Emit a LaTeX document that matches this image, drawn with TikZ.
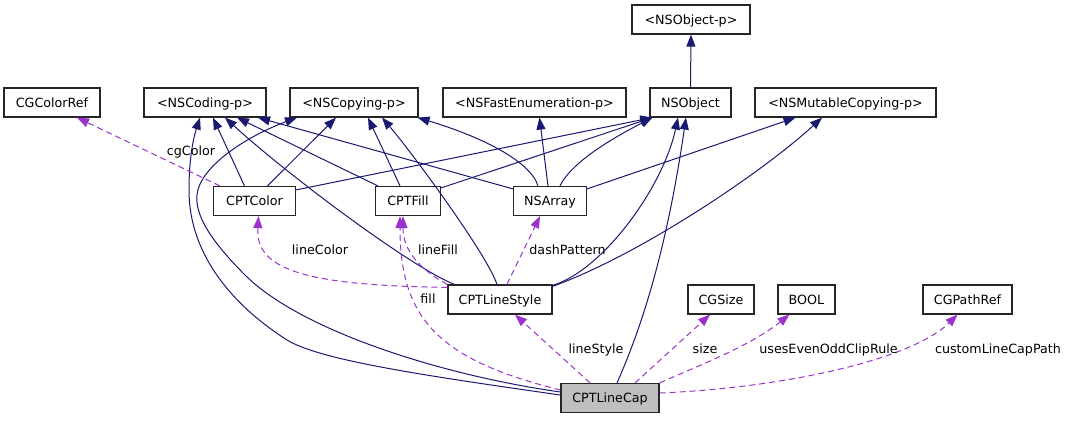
\documentclass[tikz,border=0pt]{standalone}
\usepackage{fontspec}
\setmainfont{DejaVu Sans}
\usetikzlibrary{arrows.meta}
\definecolor{edgeblue}{HTML}{191970}
\definecolor{edgepurple}{HTML}{9A32CD}
\definecolor{capgray}{HTML}{BFBFBF}
\tikzset{
  box/.style={draw=black!85, line width=1.2pt, fill=white, minimum height=29pt, inner sep=0pt,
              text height=9.3pt, text depth=0pt, font=\fontsize{12.7pt}{15pt}\selectfont},
  inherit/.style={draw=edgeblue, line width=1pt, -{Triangle[length=12pt,width=9pt]}},
  uses/.style={draw=edgepurple, line width=1pt, dash pattern=on 6pt off 4pt, -{Triangle[length=12pt,width=9pt]}},
  lbl/.style={inner sep=0pt, text height=9.3pt, text depth=0pt, font=\fontsize{12.7pt}{15pt}\selectfont},
}
\begin{document}
\begin{tikzpicture}[x=1pt,y=-1pt]
\useasboundingbox (0,0) rectangle (1067,421);
% nodes
\node[box, minimum width=118pt] (nsobjp) at (691,19.5) {<NSObject-p>};
\node[box, minimum width=96pt] (cgcolorref) at (52,102.5) {CGColorRef};
\node[box, minimum width=122pt] (nscoding) at (205,102.5) {<NSCoding-p>};
\node[box, minimum width=128pt] (nscopying) at (354,102.5) {<NSCopying-p>};
\node[box, minimum width=183pt] (nsfast) at (534.5,102.5) {<NSFastEnumeration-p>};
\node[box, minimum width=81pt] (nsobject) at (690.5,102.5) {NSObject};
\node[box, minimum width=181pt] (nsmutable) at (845.5,102.5) {<NSMutableCopying-p>};
\node[box, minimum width=82pt] (cptcolor) at (254.5,201) {CPTColor};
\node[box, minimum width=65pt] (cptfill) at (408,201) {CPTFill};
\node[box, minimum width=73pt] (nsarray) at (550,201) {NSArray};
\node[box, minimum width=104pt] (linestyle) at (500,299.5) {CPTLineStyle};
\node[box, minimum width=66pt] (cgsize) at (721,299.5) {CGSize};
\node[box, minimum width=57pt] (bool) at (806.5,299.5) {BOOL};
\node[box, minimum width=89pt] (cgpathref) at (967.5,299.5) {CGPathRef};
\node[box, minimum width=98pt, fill=capgray] (linecap) at (610,398) {CPTLineCap};

% inheritance / protocol edges
\draw[inherit] (nsobject.north) -- (nsobjp.south);
\draw[inherit] ([xshift=-10pt]cptcolor.north) -- ([xshift=8pt]nscoding.south);
\draw[inherit] ([xshift=13pt]cptcolor.north) -- ([xshift=-18pt]nscopying.south);
\draw[inherit] ([yshift=-4pt]cptcolor.north east) -- ([xshift=3pt]nsobject.south west);
\draw[inherit] ([xshift=3pt]cptfill.north west) -- ([xshift=32pt]nscoding.south);
\draw[inherit] ([xshift=-8pt]cptfill.north) -- ([xshift=14pt]nscopying.south);
\draw[inherit] ([yshift=-2pt]cptfill.north east) -- ([xshift=3pt]nsobject.south west);
\draw[inherit] ([yshift=-3pt]nsarray.north west) -- ([xshift=53pt]nscoding.south);
\draw[inherit] ([xshift=-12pt]nsarray.north) .. controls +(-8,-26) and +(60,18) .. ([xshift=-1pt]nscopying.south east);
\draw[inherit] ([xshift=-2pt]nsarray.north) -- ([xshift=5pt]nsfast.south);
\draw[inherit] ([xshift=10pt]nsarray.north) .. controls +(12,-25) and +(-35,18) .. ([xshift=3pt]nsobject.south west);
\draw[inherit] ([yshift=-3pt]nsarray.north east) -- ([xshift=-50pt]nsmutable.south);
\draw[inherit] ([xshift=7pt]linestyle.north west) .. controls +(-45,-18) and +(60,55) .. ([xshift=20pt]nscoding.south);
\draw[inherit] ([xshift=-3pt]linestyle.north) .. controls +(-10,-30) and +(30,35) .. ([xshift=28pt]nscopying.south);
\draw[inherit] ([yshift=-1pt]linestyle.north east) .. controls +(50,-15) and +(-15,70) .. ([xshift=-12.5pt]nsobject.south);
\draw[inherit] ([yshift=-2pt]linestyle.north east) .. controls +(88,-32) and +(-60,55) .. ([xshift=-23.5pt]nsmutable.south);
\draw[inherit] ([yshift=3pt]linecap.west) .. controls (420,375) and (320,360) .. (287,340)
   .. controls (240,310) and (189,260) .. (189,190)
   .. controls (189,150) and (196,130) .. ([xshift=-5pt]nscoding.south);
\draw[inherit] ([yshift=6pt]linecap.west) .. controls (440,375) and (300,330) .. (245,275)
   .. controls (210,240) and (195,215) .. (197,195)
   .. controls (200,165) and (250,135) .. ([xshift=-57pt]nscopying.south);
\draw[inherit] ([xshift=7pt]linecap.north) .. controls +(28,-63) and +(-18,123) .. ([xshift=-4.5pt]nsobject.south);

% usage edges
\draw[uses] ([xshift=7pt]cptcolor.north west) -- ([xshift=25pt]cgcolorref.south);
\draw[uses] ([yshift=-3pt]linestyle.north west) .. controls +(-148,-2) and +(-3,52) .. ([xshift=4pt]cptcolor.south);
\draw[uses] (linestyle.north west) .. controls +(-28,-15) and +(0,34) .. ([xshift=-5pt]cptfill.south);
\draw[uses] ([yshift=8pt]linecap.west) .. controls (440,360) and (400,320) .. ([xshift=-8pt]cptfill.south);
\draw[uses] ([xshift=7pt]linestyle.north) -- ([xshift=-10pt]nsarray.south);
\draw[uses] ([xshift=-20pt]linecap.north) -- ([xshift=15pt]linestyle.south);
\draw[uses] ([xshift=25pt]linecap.north) -- ([xshift=-11pt]cgsize.south);
\draw[uses] (linecap.north east) .. controls +(41,-18) and +(-39,31) .. ([xshift=-17pt]bool.south);
\draw[uses] ([yshift=5pt]linecap.east) .. controls +(121,-5) and +(-47,46) .. ([xshift=-10pt]cgpathref.south);

% labels
\node[lbl] (lcg) at (191,151) {cgColor};
\node[lbl] (llc) at (320,250) {lineColor};
\node[lbl] (llf) at (438,250) {lineFill};
\node[lbl] (ldp) at (567.5,250) {dashPattern};
\node[lbl] (lfi) at (428,299) {fill};
\node[lbl] (lls) at (596,349) {lineStyle};
\node[lbl] (lsz) at (705,349) {size};
\node[lbl] (leo) at (828.5,349) {usesEvenOddClipRule};
\node[lbl] (lcp) at (998,349) {customLineCapPath};
\end{tikzpicture}
\end{document}
